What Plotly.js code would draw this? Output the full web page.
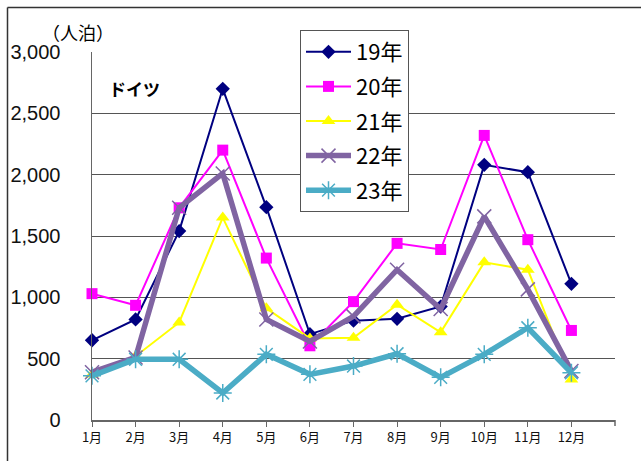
<!DOCTYPE html>
<html>
<head>
<meta charset="utf-8">
<script src="https://cdn.plot.ly/plotly-3.0.1.min.js"></script>
<style>
html,body{margin:0;padding:0;background:#fff;}
#chart{width:641px;height:461px;}
</style>
</head>
<body>
<div id="chart"></div>
<script>
const months = ['1月','2月','3月','4月','5月','6月','7月','8月','9月','10月','11月','12月'];
const y19 = [650, 820, 1540, 2700, 1735, 700, 810, 825, 925, 2080, 2020, 1110];
const y20 = [1030, 935, 1730, 2200, 1320, 605, 965, 1440, 1390, 2320, 1470, 730];
const y21 = [370, 520, 795, 1650, 910, 665, 670, 940, 715, 1285, 1225, 330];
const y22 = [390, 510, 1730, 2010, 820, 640, 845, 1225, 905, 1660, 1065, 400];
const y23 = [360, 495, 495, 220, 535, 372, 440, 540, 348, 535, 752, 385];
const yTicks = [0, 500, 1000, 1500, 2000, 2500, 3000];
const yTickText = ['0', '500', '1,000', '1,500', '2,000', '2,500', '3,000'];
const seriesNames = ['19年', '20年', '21年', '22年', '23年'];

const L = 92, R = 26, T = 52, B = 41;
const W = 641, H = 461;
const pw = W - L - R, ph = H - T - B;
function px(x){ return (x - L) / pw; }
function py(y){ return (H - B - y) / ph; }

const traces = [
  {y: y19, name: seriesNames[0], line: {color: '#000080', width: 2},
   marker: {symbol: 'diamond', size: 11, color: '#000080'}},
  {y: y20, name: seriesNames[1], line: {color: '#FF00FF', width: 2},
   marker: {symbol: 'square', size: 11, color: '#FF00FF'}},
  {y: y21, name: seriesNames[2], line: {color: '#FFFF00', width: 2},
   marker: {symbol: 'triangle-up', size: 12, color: '#FFFF00'}},
  {y: y22, name: seriesNames[3], line: {color: '#8064A2', width: 5.5},
   marker: {symbol: 'x-thin-open', size: 14, color: '#8064A2', line: {width: 1.5, color: '#8064A2'}}},
  {y: y23, name: seriesNames[4], line: {color: '#4BACC6', width: 5.5},
   marker: {symbol: 'asterisk-open', size: 15, color: '#4BACC6', line: {width: 1.5, color: '#4BACC6'}}}
].map((t, i) => Object.assign({
  x: months, type: 'scatter', mode: 'lines+markers', cliponaxis: false,
  legendgroup: 'g' + i
}, t));

const layout = {
  width: W, height: H,
  margin: {l: L, r: R, t: T, b: B},
  paper_bgcolor: '#fff', plot_bgcolor: '#fff',
  showlegend: true,
  font: {family: 'Liberation Sans, Arial, sans-serif', color: '#000'},
  xaxis: {
    type: 'category', range: [0, 12], fixedrange: true,
    showgrid: false, zeroline: false,
    showline: true, linecolor: '#666', linewidth: 1.5,
    ticks: 'outside', ticklen: 5, tickcolor: '#666',
    tickfont: {family: 'Noto Sans CJK JP', size: 13, color: '#111'}
  },
  yaxis: {
    range: [0, 3000], fixedrange: true,
    tickvals: yTicks, ticktext: yTickText,
    showgrid: true, gridcolor: '#555', gridwidth: 1,
    zeroline: false, showline: true, linecolor: '#666', linewidth: 1.5,
    ticks: '', ticklabelstandoff: 26,
    tickfont: {family: 'Liberation Sans, Arial, sans-serif', size: 20, color: '#111'}
  },
  legend: {
    x: px(300), y: py(30), xanchor: 'left', yanchor: 'top',
    bgcolor: '#fff', bordercolor: '#555', borderwidth: 1,
    font: {family: 'Noto Sans CJK JP', size: 22, color: '#000'},
    tracegroupgap: 3, traceorder: 'grouped', itemwidth: 45
  },
  annotations: [
    {text: '（人泊）', xref: 'paper', yref: 'paper', x: px(40), y: py(32),
     xanchor: 'left', yanchor: 'middle', showarrow: false,
     font: {family: 'Noto Sans CJK JP', size: 18, color: '#000'}},
    {text: '<b>ドイツ</b>', xref: 'paper', yref: 'paper', x: px(107), y: py(88),
     xanchor: 'left', yanchor: 'middle', showarrow: false,
     font: {family: 'Noto Sans CJK JP', size: 17, color: '#000'}}
  ],
  shapes: [
    {type: 'line', xref: 'paper', yref: 'paper', x0: px(7.5), x1: px(7.5), y0: py(7.5), y1: py(470),
     line: {color: '#333', width: 1.5}},
    {type: 'line', xref: 'paper', yref: 'paper', x0: px(7.5), x1: px(650), y0: py(7.5), y1: py(7.5),
     line: {color: '#333', width: 1.5}},
    {type: 'line', xref: 'paper', yref: 'paper', x0: 1, x1: 1, y0: 0, y1: py(426),
     line: {color: '#666', width: 1.5}}
  ]
};

Plotly.newPlot('chart', traces, layout, {displayModeBar: false, staticPlot: true});
</script>
</body>
</html>
